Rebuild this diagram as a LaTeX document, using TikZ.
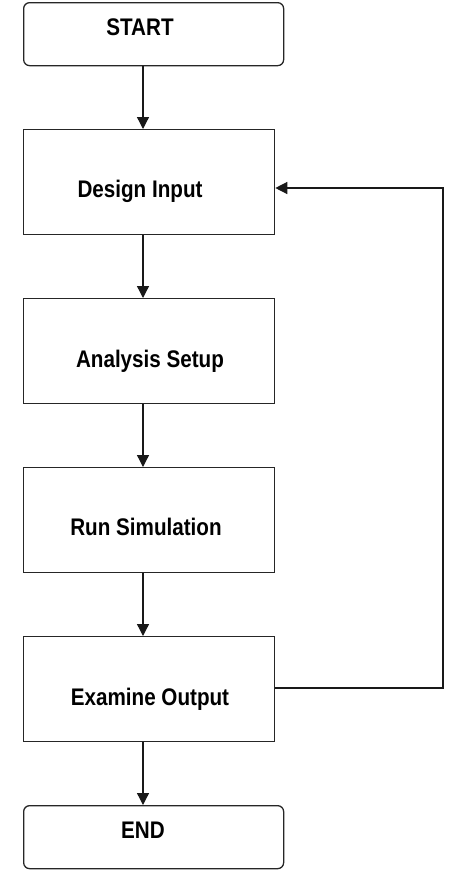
\documentclass[tikz,border=0pt]{standalone}
\usepackage{fontspec}
\setmainfont{Liberation Sans}[FakeStretch=0.86]
\usetikzlibrary{arrows.meta}
\tikzset{
  box/.style={draw=black!85, line width=1.3pt, fill=white, inner sep=0pt, anchor=north west},
  term/.style={box, rounded corners=6pt},
  lbl/.style={font=\bfseries\fontsize{24}{28}\selectfont, inner sep=0pt, anchor=base},
  conn/.style={draw=black!90, line width=1.3pt, -{Triangle[width=12pt,length=12pt]}}
}
\begin{document}
\begin{tikzpicture}[x=1pt,y=-1pt]
\useasboundingbox (0,0) rectangle (460,895);
% boxes
\node[term, minimum width=260pt, minimum height=63pt] (start) at (23,2) {};
\node[box, minimum width=251pt, minimum height=105pt] (di) at (23,129) {};
\node[box, minimum width=251pt, minimum height=105pt] (as) at (23,298) {};
\node[box, minimum width=251pt, minimum height=105pt] (rs) at (23,467) {};
\node[box, minimum width=251pt, minimum height=105pt] (eo) at (23,636) {};
\node[term, minimum width=260pt, minimum height=63pt] (end) at (23,805) {};
% labels
\node[lbl] (tstart) at (140,35) {START};
\node[lbl] (tdi) at (140,197) {Design Input};
\node[lbl] (tas) at (150,367) {Analysis Setup};
\node[lbl] (trs) at (146,535) {Run Simulation};
\node[lbl] (teo) at (150,705) {Examine Output};
\node[lbl] (tend) at (143,838) {END};
% connectors
\coordinate (c1) at (443,688);
\coordinate (c2) at (443,188);
\draw[conn] (start.south -| 143,0) -- (di.north -| 143,0);
\draw[conn] (di.south -| 143,0) -- (as.north -| 143,0);
\draw[conn] (as.south -| 143,0) -- (rs.north -| 143,0);
\draw[conn] (rs.south -| 143,0) -- (eo.north -| 143,0);
\draw[conn] (eo.south -| 143,0) -- (end.north -| 143,0);
\draw[conn] (eo.east |- c1) -- (c1) -- (c2) -- (di.east |- c2);
\end{tikzpicture}
\end{document}
